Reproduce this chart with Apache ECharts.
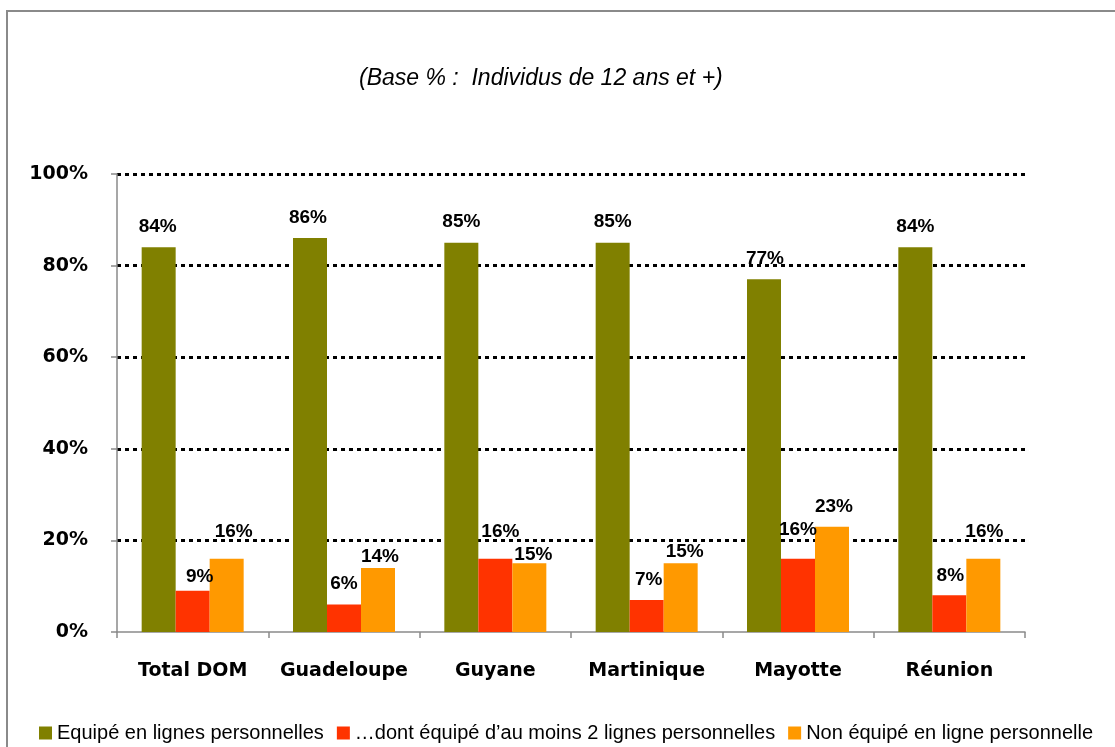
<!DOCTYPE html>
<html>
<head>
<meta charset="utf-8">
<script src="https://cdn.jsdelivr.net/npm/echarts@6/dist/echarts.min.js"></script>
<style>
html,body{margin:0;padding:0;background:#fff;}
#c{width:1115px;height:747px;}
</style>
</head>
<body>
<div id="c"></div>
<script>
var categories = ['Total DOM', 'Guadeloupe', 'Guyane', 'Martinique', 'Mayotte', 'Réunion'];
var seriesNames = ['Equipé en lignes personnelles', '…dont équipé d\u2019au moins 2 lignes personnelles', 'Non équipé en ligne personnelle'];
var equipe = [84, 86, 85, 85, 77, 84];
var deuxLignes = [9, 6, 16, 7, 16, 8];
var nonEquipe = [16, 14, 15, 15, 23, 16];
var yTicks = [0, 20, 40, 60, 80, 100];
var subtitle = '(Base % :  Individus de 12 ans et +)';

// label nudges (style only) [dx, dy] in px
var nudgeGreen = [[-1,0],[-2,0],[0,0],[0,0],[1,0],[0,0]];
var nudgeRed = [[7,6],[0,0],[5,-6],[2,0],[0,-8],[1,1]];
var nudgeOrange = [[7,-6],[2,9],[4,12],[4,9],[2,1],[1,-6]];

var colors = ['#808000', '#FF3300', '#FF9900'];

function buildData(vals, nudges) {
  return vals.map(function (v, i) {
    return { value: v, label: { offset: nudges[i] } };
  });
}

var labelStyle = {
  show: true,
  position: 'top',
  distance: 11,
  formatter: '{c}%',
  fontFamily: 'Liberation Sans, Arial, sans-serif',
  fontWeight: 'bold',
  fontSize: 19,
  color: '#000'
};

var chart = echarts.init(document.getElementById('c'), null, {renderer: 'canvas'});
chart.setOption({
  backgroundColor: '#fff',
  animation: false,
  graphic: [
    { type: 'rect', shape: { x: 7, y: 11, width: 1130, height: 760 },
      style: { fill: 'none', stroke: '#8a8a8a', lineWidth: 2 }, z: 100 },
    { type: 'text', left: 359, top: 67,
      style: { text: subtitle, font: 'italic 23px "Liberation Sans", Arial, sans-serif', fill: '#000' } }
  ],
  legend: {
    left: 39, top: 723, padding: 0,
    itemWidth: 13, itemHeight: 13, itemGap: 13,
    icon: 'rect',
    data: seriesNames,
    textStyle: { fontFamily: 'Liberation Sans, Arial, sans-serif', fontSize: 20, color: '#000' }
  },
  grid: { left: 117, right: 90, top: 174, bottom: 115, containLabel: false },
  xAxis: {
    type: 'category',
    data: categories,
    axisLine: { lineStyle: { color: '#8a8a8a', width: 1.5 } },
    axisTick: { show: true, interval: 0, length: 6, lineStyle: { color: '#8a8a8a', width: 1.5 } },
    axisLabel: {
      interval: 0,
      margin: 30,
      fontFamily: 'DejaVu Sans, sans-serif',
      fontWeight: 'bold', fontSize: 19, color: '#000'
    }
  },
  yAxis: {
    type: 'value',
    min: 0, max: 100, interval: 20,
    axisLine: { show: true, lineStyle: { color: '#8a8a8a', width: 1.5 } },
    axisTick: { show: true, length: 6, lineStyle: { color: '#8a8a8a', width: 1.5 } },
    splitLine: { show: true, showMinLine: false, lineStyle: { color: '#000', width: 3, type: [4, 4] } },
    axisLabel: {
      margin: 29,
      formatter: function (v) { return yTicks.indexOf(v) >= 0 ? v + '%' : ''; },
      fontFamily: 'DejaVu Sans, sans-serif',
      fontWeight: 'bold', fontSize: 19, color: '#000'
    }
  },
  series: [
    { name: seriesNames[0], type: 'bar', barWidth: 34, barGap: '0%', itemStyle: { color: colors[0] },
      label: labelStyle, data: buildData(equipe, nudgeGreen) },
    { name: seriesNames[1], type: 'bar', barWidth: 34, barGap: '0%', itemStyle: { color: colors[1] },
      label: labelStyle, data: buildData(deuxLignes, nudgeRed) },
    { name: seriesNames[2], type: 'bar', barWidth: 34, barGap: '0%', itemStyle: { color: colors[2] },
      label: labelStyle, data: buildData(nonEquipe, nudgeOrange) }
  ]
});
</script>
</body>
</html>
